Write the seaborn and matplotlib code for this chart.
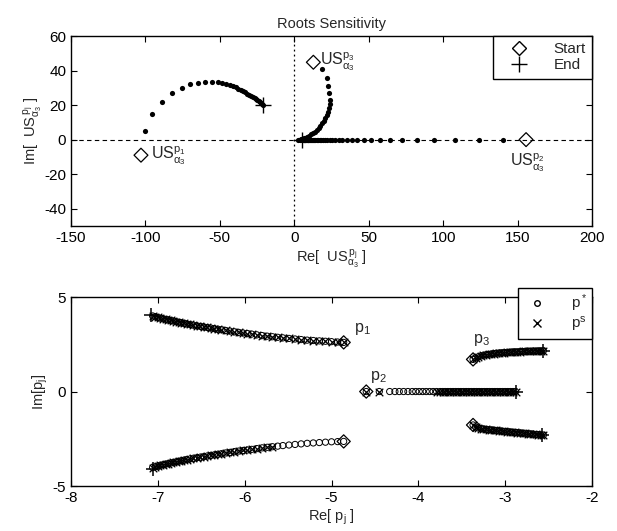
import numpy as np
import pandas as pd
import matplotlib
matplotlib.use("Agg")
from matplotlib import pyplot as plt
from matplotlib.lines import Line2D
import seaborn as sns

# ---- top panel: sensitivity paths US^{p_j}_{alpha_3} ----
us1_x = [-100.5, -95.4, -88.7, -82.2, -75.6, -70.0, -64.9, -60.0, -55.5, -51.0, -48.3, -45.8,
         -43.5, -41.4, -39.5, -37.7, -36.0, -34.4, -32.9, -31.5, -30.2, -29.0, -27.8, -26.7,
         -25.7, -24.8, -23.9, -23.1, -22.3, -21.6, -20.9]
us1_y = [4.8, 14.8, 21.8, 27.0, 29.7, 32.0, 33.0, 33.2, 33.5, 33.1, 32.7, 32.2,
         31.6, 31.0, 30.3, 29.6, 28.9, 28.2, 27.5, 26.7, 26.0, 25.3, 24.6, 24.0,
         23.3, 22.7, 22.1, 21.6, 21.0, 20.5, 19.9]
us3_x = [18.8, 21.7, 22.8, 23.5, 24.0, 23.7, 23.2, 22.5, 21.7, 20.8, 19.8, 18.7, 17.5, 16.3,
         15.0, 13.7, 12.4, 11.1, 9.9, 8.7, 7.6, 6.6, 5.7, 4.9, 4.2, 3.5, 2.8]
us3_y = [40.7, 35.5, 31.0, 26.8, 23.0, 20.5, 18.3, 16.2, 14.3, 12.5, 10.9, 9.4, 8.0, 6.8,
         5.7, 4.7, 3.8, 3.0, 2.3, 1.7, 1.2, 0.8, 0.5, 0.3, 0.1, 0.0, 0.0]
us2_x = [140.4, 124.2, 108.2, 93.6, 82.6, 72.2, 64.3, 57.6, 51.5, 46.5, 42.2, 38.5, 35.2,
         32.3, 29.8, 27.5, 25.5, 23.7, 22.1, 20.6, 19.3, 18.1, 17.0, 16.0, 15.1, 14.2, 13.4,
         12.6, 11.9, 11.2, 10.6, 10.0, 9.4, 8.9, 8.4, 7.9, 7.4, 7.0, 6.6, 6.2, 5.8, 5.4]
us2_y = [0.0] * len(us2_x)

us_start_x = [-103.0, 155.7, 12.8]
us_start_y = [-9.0, 0.0, 44.8]
us_end_x = [-20.8, 5.5]
us_end_y = [20.0, 0.0]

# ---- bottom panel: root loci ----
p1_x = [-4.86, -4.93, -5.00, -5.07, -5.14, -5.21, -5.28, -5.35, -5.42, -5.49, -5.56, -5.62,
        -5.68, -5.74, -5.80, -5.86, -5.92, -5.97, -6.02, -6.07, -6.12, -6.17, -6.22, -6.27,
        -6.31, -6.35, -6.39, -6.43, -6.47, -6.51, -6.55, -6.59, -6.63, -6.67, -6.70, -6.73,
        -6.76, -6.79, -6.82, -6.85, -6.88, -6.91, -6.94, -6.97, -7.00, -7.03, -7.06]
p1_up = [2.60, 2.62, 2.64, 2.66, 2.68, 2.70, 2.72, 2.75, 2.78, 2.81, 2.84, 2.87,
         2.90, 2.93, 2.96, 3.00, 3.04, 3.07, 3.10, 3.13, 3.16, 3.20, 3.23, 3.27,
         3.30, 3.33, 3.36, 3.39, 3.42, 3.45, 3.48, 3.51, 3.55, 3.58, 3.61, 3.64,
         3.67, 3.70, 3.73, 3.76, 3.79, 3.82, 3.85, 3.88, 3.92, 3.96, 4.00]
p1_lo = [-2.64, -2.65, -2.66, -2.68, -2.70, -2.72, -2.74, -2.77, -2.80, -2.83, -2.86, -2.89,
         -2.92, -2.95, -2.98, -3.02, -3.06, -3.09, -3.12, -3.15, -3.18, -3.22, -3.25, -3.29,
         -3.32, -3.35, -3.38, -3.41, -3.44, -3.47, -3.50, -3.53, -3.57, -3.60, -3.63, -3.66,
         -3.69, -3.72, -3.75, -3.78, -3.81, -3.84, -3.87, -3.90, -3.94, -3.98, -4.02]
p2_x = [-4.60, -4.45, -4.33, -4.27, -4.22, -4.17, -4.12, -4.07, -4.03, -3.99, -3.95, -3.91,
        -3.87, -3.83, -3.79, -3.75, -3.72, -3.69, -3.66, -3.63, -3.60, -3.57, -3.54, -3.51,
        -3.48, -3.45, -3.42, -3.39, -3.36, -3.33, -3.30, -3.27, -3.24, -3.21, -3.18, -3.15,
        -3.12, -3.09, -3.06, -3.03, -3.00, -2.97, -2.94, -2.91, -2.88]
p2_y = [0.0] * len(p2_x)
p3_x = [-3.37, -3.34, -3.31, -3.28, -3.25, -3.22, -3.19, -3.16, -3.13, -3.10, -3.07, -3.04,
        -3.01, -2.98, -2.95, -2.92, -2.89, -2.86, -2.83, -2.80, -2.77, -2.74, -2.71, -2.68,
        -2.65, -2.62, -2.59, -2.56]
p3_up = [1.70, 1.78, 1.84, 1.88, 1.92, 1.95, 1.97, 1.99, 2.01, 2.03, 2.04, 2.05,
         2.06, 2.07, 2.08, 2.09, 2.10, 2.10, 2.11, 2.12, 2.12, 2.13, 2.13, 2.14,
         2.14, 2.15, 2.15, 2.16]
p3_lo = [-1.77, -1.88, -1.93, -1.96, -1.98, -2.00, -2.02, -2.03, -2.05, -2.06, -2.08, -2.09,
         -2.11, -2.12, -2.13, -2.15, -2.16, -2.17, -2.19, -2.20, -2.21, -2.23, -2.24, -2.25,
         -2.27, -2.28, -2.29, -2.30]

p_start_x = [-4.86, -4.86, -4.60, -3.37, -3.37]
p_start_y = [2.60, -2.64, 0.0, 1.70, -1.77]
p_end_x = [-7.08, -7.06, -2.87, -2.56, -2.58]
p_end_y = [4.05, -4.10, 0.0, 2.16, -2.30]

sns.set_style("ticks")
plt.rcParams["font.family"] = ["Liberation Sans", "DejaVu Sans"]
plt.rcParams["mathtext.fontset"] = "custom"
plt.rcParams["mathtext.rm"] = "Liberation Sans"
plt.rcParams["mathtext.it"] = "Liberation Sans"
plt.rcParams["axes.unicode_minus"] = False
plt.rcParams["xtick.direction"] = "in"
plt.rcParams["ytick.direction"] = "in"
plt.rcParams["xtick.top"] = True
plt.rcParams["ytick.right"] = True
plt.rcParams["axes.edgecolor"] = "black"
plt.rcParams["axes.linewidth"] = 1.0

fig = plt.figure(figsize=(6.17, 5.31), dpi=100)
ax1 = fig.add_axes([0.1151, 0.5744, 0.8444, 0.3578])
ax2 = fig.add_axes([0.1151, 0.0847, 0.8444, 0.3559])

# Top panel
ax1.axhline(0, color="k", ls=(0, (4, 3)), lw=0.8, zorder=0)
ax1.axvline(0, color="k", ls=(0, (1.5, 2.5)), lw=0.9, zorder=0)
for xs, ys in [(us1_x, us1_y), (us3_x, us3_y), (us2_x, us2_y)]:
    sns.scatterplot(x=xs, y=ys, ax=ax1, color="k", marker="o", s=14, linewidth=0)
sns.scatterplot(x=us_start_x, y=us_start_y, ax=ax1, marker="D", s=50,
                facecolor="none", edgecolor="k", linewidth=0.9)
sns.scatterplot(x=us_end_x, y=us_end_y, ax=ax1, marker="+", s=120, color="k", linewidth=1.0)

ax1.text(-96, -9, r"US$^{p_1}_{\alpha_3}$", fontsize=11.5, va="center")
ax1.text(17, 45, r"US$^{p_3}_{\alpha_3}$", fontsize=11.5, va="center")
ax1.text(145, -13.5, r"US$^{p_2}_{\alpha_3}$", fontsize=11.5, va="center")

ax1.set_xlim(-150, 200)
ax1.set_ylim(-50, 60)
ax1.set_xticks([-150, -100, -50, 0, 50, 100, 150, 200])
ax1.set_yticks([-40, -20, 0, 20, 40, 60])
ax1.set_title("Roots Sensitivity", fontsize=10.5, pad=6)
ax1.set_xlabel(r"Re[  US$^{\,p_j}_{\alpha_3}$ ]", fontsize=10.5, labelpad=2)
ax1.set_ylabel(r"Im[  US$^{\,p_j}_{\alpha_3}$ ]", fontsize=10.5, labelpad=0)

h1 = [Line2D([], [], ls="", marker="D", mfc="none", mec="k", ms=7),
      Line2D([], [], ls="", marker="+", color="k", ms=11)]
ax1.legend(h1, ["Start", "End"], loc="upper right", borderaxespad=0, fancybox=False,
           edgecolor="k", framealpha=1, fontsize=11, handlelength=2.6, handletextpad=1.0,
           labelspacing=0.15, borderpad=0.4)

# Bottom panel
branches = [(p1_x, p1_up), (p1_x, p1_lo), (p2_x, p2_y), (p3_x, p3_up), (p3_x, p3_lo)]
for xs, ys in branches:
    sns.scatterplot(x=xs, y=ys, ax=ax2, marker="o", s=20, facecolor="none",
                    edgecolor="k", linewidth=0.7)
cross_sets = [(p1_x, p1_up), (p1_x[12:], p1_lo[12:]), (p2_x[:2], p2_y[:2]),
              (p2_x[14:], p2_y[14:]), (p3_x, p3_up), (p3_x, p3_lo)]
for xs, ys in cross_sets:
    sns.scatterplot(x=xs, y=ys, ax=ax2, marker="x", s=30, color="k", linewidth=0.9)
sns.scatterplot(x=p_start_x, y=p_start_y, ax=ax2, marker="D", s=45,
                facecolor="none", edgecolor="k", linewidth=0.9)
sns.scatterplot(x=p_end_x, y=p_end_y, ax=ax2, marker="+", s=110, color="k", linewidth=1.1)

ax2.text(-4.74, 3.3, r"p$_1$", fontsize=11.5, va="center")
ax2.text(-4.56, 0.75, r"p$_2$", fontsize=11.5, va="center")
ax2.text(-3.37, 2.75, r"p$_3$", fontsize=11.5, va="center")

ax2.set_xlim(-8, -2)
ax2.set_ylim(-5, 5)
ax2.set_xticks([-8, -7, -6, -5, -4, -3, -2])
ax2.set_yticks([-5, 0, 5])
ax2.set_xlabel(r"Re[ p$_j$ ]", fontsize=10.5, labelpad=2)
ax2.set_ylabel(r"Im[p$_j$]", fontsize=10.5, labelpad=2)

h2 = [Line2D([], [], ls="", marker="o", mfc="none", mec="k", ms=4),
      Line2D([], [], ls="", marker="x", color="k", ms=6)]
ax2.legend(h2, [r"p$^*$", r"p$^s$"], loc="upper right", bbox_to_anchor=(1, 1.048),
           borderaxespad=0, fancybox=False, edgecolor="k", framealpha=1, fontsize=11,
           handlelength=2.0, handletextpad=1.2, labelspacing=0.05, borderpad=0.3)

for ax in (ax1, ax2):
    ax.tick_params(labelsize=11, length=4, width=0.8, color="k", labelcolor="k")
    for sp in ax.spines.values():
        sp.set_visible(True)

fig.savefig("out.png", dpi=100)
